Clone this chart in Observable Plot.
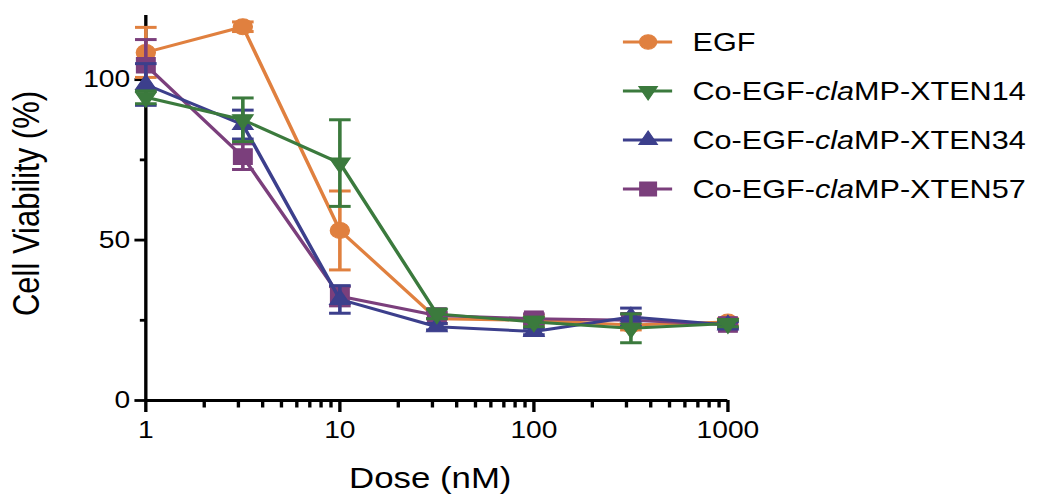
<!DOCTYPE html>
<html>
<head>
<meta charset="utf-8">
<script src="https://cdn.jsdelivr.net/npm/d3@7"></script>
<script src="https://cdn.jsdelivr.net/npm/@observablehq/plot@0.6"></script>
<style>
  html, body { margin: 0; padding: 0; background: #fff; }
  #chart { width: 1037px; height: 496px; overflow: hidden; }
  #chart svg { display: block; }
</style>
</head>
<body>
<div id="chart"></div>
<script>
// Doses (nM), half-log steps
const doses = [1, 3.162, 10, 31.62, 100, 316.2, 1000];

// Series names
const seriesNames = ["EGF", "Co-EGF-claMP-XTEN14", "Co-EGF-claMP-XTEN34", "Co-EGF-claMP-XTEN57"];

// Mean cell viability (%) and error (SD) per dose
const egfMean     = [108.5, 116.5, 53.0, 25.5, 25.0, 23.5, 24.5];
const egfSd       = [7.8, 1.5, 12.3, 1.5, 1.5, 1.5, 1.0];
const xten14Mean  = [94.5, 87.5, 74.0, 27.0, 24.5, 22.5, 24.0];
const xten14Sd    = [2.0, 6.8, 13.5, 1.5, 1.5, 4.5, 1.0];
const xten34Mean  = [98.5, 86.0, 31.5, 23.0, 21.5, 26.0, 23.5];
const xten34Sd    = [6.5, 4.5, 4.3, 1.0, 1.0, 2.8, 1.0];
const xten57Mean  = [104.5, 76.0, 32.5, 26.5, 25.5, 25.0, 23.7];
const xten57Sd    = [8.0, 4.0, 3.0, 1.0, 1.5, 2.0, 1.0];

// Axis ticks
const xTicks = [1, 10, 100, 1000];
const xMinorTicks = [2, 3, 4, 5, 6, 7, 8, 9, 20, 30, 40, 50, 60, 70, 80, 90, 200, 300, 400, 500, 600, 700, 800, 900];
const yTicks = [0, 50, 100];
const yMinorTicks = [25, 75];

const FONT = "'Liberation Sans', Arial, Helvetica, sans-serif";

// Series styling (symbol, colour)
const styles = [
  { color: "#E0803F", symbol: "circle",   r: 8,   rotate: 0 },
  { color: "#3B7A3D", symbol: "triangle", r: 6.4, rotate: 180 },
  { color: "#3C3F8C", symbol: "triangle", r: 6.4, rotate: 0 },
  { color: "#7B3F7C", symbol: "square",   r: 8.8, rotate: 0 }
];
const means = [egfMean, xten14Mean, xten34Mean, xten57Mean];
const sds = [egfSd, xten14Sd, xten34Sd, xten57Sd];

const series = seriesNames.map((name, i) => ({
  name, ...styles[i],
  rows: doses.map((dose, j) => ({ series: name, dose, mean: means[i][j], sd: sds[i][j] }))
}));

// Custom glyphs: error-bar caps and minor tick marks
const cap = { draw(ctx) { ctx.moveTo(-9, 0); ctx.lineTo(9, 0); } };
const tickDown = { draw(ctx) { ctx.moveTo(0, 0); ctx.lineTo(0, 7); } };
const tickLeft = { draw(ctx) { ctx.moveTo(0, 0); ctx.lineTo(-5, 0); } };

// Drawing order: EGF at the back, XTEN14 on top
const drawOrder = [0, 3, 2, 1];
const seriesMarks = drawOrder.flatMap(i => {
  const s = series[i];
  return [
    Plot.ruleX(s.rows, { x: "dose", y1: d => d.mean - d.sd, y2: d => d.mean + d.sd, stroke: s.color, strokeWidth: 3 }),
    Plot.dot(s.rows, { x: "dose", y: d => d.mean + d.sd, symbol: cap, r: 5, fill: "none", stroke: s.color, strokeWidth: 3 }),
    Plot.dot(s.rows, { x: "dose", y: d => d.mean - d.sd, symbol: cap, r: 5, fill: "none", stroke: s.color, strokeWidth: 3 }),
    Plot.line(s.rows, { x: "dose", y: "mean", stroke: s.color, strokeWidth: 3 }),
    Plot.dot(s.rows, { x: "dose", y: "mean", symbol: s.symbol, r: s.r, rotate: s.rotate, fill: s.color, stroke: s.color, strokeWidth: 1 })
  ];
});

const W = 864, H = 496;   // drawing space; shown 1.2x wider
const plot = Plot.plot({
  width: W,
  height: H,
  marginLeft: 121,
  marginRight: 258,
  marginTop: 15,
  marginBottom: 96,
  x: { type: "log", domain: [1, 1000] },
  y: { domain: [0, 120] },
  style: { fontFamily: FONT, fontSize: "23.5px", color: "#000", background: "#fff", overflow: "visible" },
  marks: [
    Plot.axisX({ ticks: xTicks, tickSize: 12, tickPadding: 9, tickFormat: d => String(d), strokeWidth: 2.8, label: null, fontSize: 23.5 }),
    Plot.axisY({ ticks: yTicks, tickSize: 9, tickPadding: 4, tickFormat: d => String(d), strokeWidth: 2.8, label: null, fontSize: 23.5 }),
    Plot.dot(xMinorTicks, { x: d => d, frameAnchor: "bottom", symbol: tickDown, fill: "none", stroke: "#000", strokeWidth: 2.8 }),
    Plot.dot(yMinorTicks, { y: d => d, frameAnchor: "left", symbol: tickLeft, fill: "none", stroke: "#000", strokeWidth: 2.8 }),
    Plot.ruleY([0], { stroke: "#000", strokeWidth: 2.8 }),
    Plot.ruleX([1], { stroke: "#000", strokeWidth: 2.8 }),
    ...seriesMarks
  ]
});

const svg = d3.select(plot);
const xs = plot.scale("x"), ys = plot.scale("y");
const xMid = (xs.range[0] + xs.range[1]) / 2;
const yMid = (ys.range[0] + ys.range[1]) / 2;

// Axis titles
svg.append("text")
  .attr("transform", `translate(22,${yMid - 4}) rotate(-90)`)
  .attr("text-anchor", "middle").attr("dominant-baseline", "central")
  .attr("font-family", FONT).attr("font-size", 31).attr("fill", "#000")
  .text("Cell Viability (%)");
svg.append("text")
  .attr("x", xMid - 5).attr("y", 478)
  .attr("text-anchor", "middle").attr("dominant-baseline", "central")
  .attr("font-family", FONT).attr("font-size", 29).attr("fill", "#000")
  .text("Dose (nM)");

// Legend
const legend = svg.append("g").attr("font-family", FONT).attr("font-size", 25.5).attr("fill", "#000");
series.forEach((s, i) => {
  const gy = 42 + i * 49;
  const g = legend.append("g").attr("transform", `translate(0,${gy})`);
  g.append("line").attr("x1", 519).attr("x2", 560).attr("y1", 0).attr("y2", 0)
    .attr("stroke", s.color).attr("stroke-width", 3);
  const sym = s.symbol === "circle" ? d3.symbolCircle : s.symbol === "square" ? d3.symbolSquare : d3.symbolTriangle;
  g.append("path")
    .attr("d", d3.symbol(sym, Math.PI * s.r * s.r * 0.8)())
    .attr("transform", `translate(540,0) rotate(${s.rotate})`)
    .attr("fill", s.color).attr("stroke", s.color);
  const t = g.append("text").attr("x", 577).attr("y", 0)
    .attr("text-anchor", "start").attr("dominant-baseline", "central");
  const m = s.name.match(/^(.*-)(cla)(MP.*)$/);
  if (m) {
    t.append("tspan").text(m[1]);
    t.append("tspan").attr("font-style", "italic").text(m[2]);
    t.append("tspan").text(m[3]);
  } else {
    t.text(s.name);
  }
});

// Stretch horizontally to the 1037px frame
plot.setAttribute("viewBox", `0 0 ${W} ${H}`);
plot.setAttribute("preserveAspectRatio", "none");
plot.setAttribute("width", 1037);
plot.setAttribute("height", 496);
plot.style.width = "1037px";
plot.style.height = "496px";
plot.style.maxWidth = "none";

document.getElementById("chart").appendChild(plot);
</script>
</body>
</html>
